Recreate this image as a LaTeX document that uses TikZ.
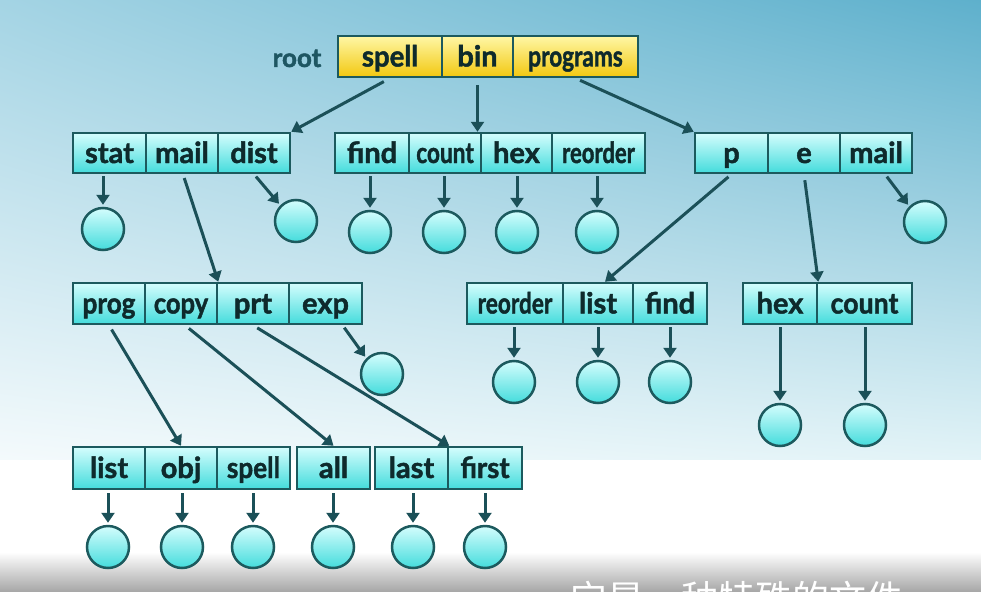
\documentclass[tikz,border=0pt]{standalone}
\usepackage{fontspec}
\usepackage{graphicx}
\setmainfont{Lato}[BoldFeatures={FakeBold=1.6}]
\newfontfamily\cjk{Noto Sans CJK SC}
\usetikzlibrary{arrows.meta,calc,shadings}
\definecolor{edgec}{HTML}{1C5A5E}
\definecolor{arrc}{HTML}{1B5058}
\definecolor{txtc}{HTML}{0E2A2C}
\definecolor{rootc}{HTML}{1E5662}
\definecolor{celltop}{HTML}{D4FDFD}
\definecolor{cellbot}{HTML}{44DCDC}
\definecolor{yeltop}{HTML}{FFF7A6}
\definecolor{yelbot}{HTML}{F2C810}
\definecolor{bgul}{HTML}{A4D4E4}
\definecolor{bgur}{HTML}{5EB0CC}
\definecolor{bgll}{HTML}{F4FAFC}
\definecolor{bglr}{HTML}{E2F3F7}
\definecolor{bggray}{HTML}{A8A8A8}
\tikzset{
  cell/.style={draw=edgec, line width=2.5pt, top color=celltop, bottom color=cellbot,
    inner sep=0pt, text height=22pt, text depth=2pt,
    font=\fontsize{29}{29}\selectfont\bfseries, text=txtc},
  ycell/.style={cell, top color=yeltop, bottom color=yelbot},
  leaf/.style={circle, draw=edgec, line width=2.5pt, top color=celltop, bottom color=cellbot,
    minimum size=42pt, inner sep=0pt},
  link/.style={draw=arrc, line width=3pt, -{Triangle[width=13pt,length=10pt]}},
}
\newcommand\mkcell[7]{\node[#1, minimum width={(#4)-(#3)}, minimum height=#6] (#2) at ({((#3)+(#4))/2},#5) {#7};}
\newcommand\sq[2]{\scalebox{#1}[1]{#2}}
\begin{document}
\begin{tikzpicture}[x=1pt,y=-1pt]
\useasboundingbox (0,0) rectangle (981,591);
\clip (0,0) rectangle (981,591);
% background
\shade[upper left=bgul, upper right=bgur, lower left=bgll, lower right=bglr]
  (0,0) rectangle (981,460);
\fill[white] (0,460) rectangle (981,553);
\shade[top color=white, bottom color=bggray] (0,552) rectangle (981,591);
% subtitle (cut off at the bottom, as in the source)
\node[text=white, font=\cjk\fontsize{37}{37}\selectfont, anchor=north west, inner sep=0pt] (sub) at (570,581) {它是一种特殊的文件};

% root
\node[font=\fontsize{26}{26}\selectfont\bfseries, text=rootc, inner sep=0pt, text height=20pt, text depth=2pt] (rootlbl) at (297,58) {root};
\mkcell{ycell}{rspell}{338}{442}{56.5}{41}{\sq{0.95}{spell}}
\mkcell{ycell}{rbin}{442}{513}{56.5}{41}{bin}
\mkcell{ycell}{rprog}{513}{638}{56.5}{41}{\sq{0.78}{programs}}

% row 2
\mkcell{cell}{astat}{73}{146}{153}{40}{stat}
\mkcell{cell}{amail}{146}{218}{153}{40}{mail}
\mkcell{cell}{adist}{218}{290}{153}{40}{dist}
\mkcell{cell}{bfind}{335}{409}{153}{40}{find}
\mkcell{cell}{bcount}{409}{481}{153}{40}{\sq{0.78}{count}}
\mkcell{cell}{bhex}{481}{552}{153}{40}{hex}
\mkcell{cell}{breorder}{552}{645}{153}{40}{\sq{0.76}{reorder}}
\mkcell{cell}{cp}{695}{768}{153}{40}{p}
\mkcell{cell}{ce}{768}{840}{153}{40}{e}
\mkcell{cell}{cmail}{840}{912}{153}{40}{mail}

% row 3
\mkcell{cell}{dprog}{73}{145}{303.5}{41}{\sq{0.9}{prog}}
\mkcell{cell}{dcopy}{145}{217}{303.5}{41}{\sq{0.88}{copy}}
\mkcell{cell}{dprt}{217}{289}{303.5}{41}{prt}
\mkcell{cell}{dexp}{289}{362}{303.5}{41}{exp}
\mkcell{cell}{ereorder}{467}{563}{303.5}{41}{\sq{0.78}{reorder}}
\mkcell{cell}{elist}{563}{633}{303.5}{41}{list}
\mkcell{cell}{efind}{633}{707}{303.5}{41}{find}
\mkcell{cell}{fhex}{743}{817}{303.5}{41}{hex}
\mkcell{cell}{fcount}{817}{912}{303.5}{41}{\sq{0.92}{count}}

% row 4
\mkcell{cell}{glist}{73}{145}{468}{42}{list}
\mkcell{cell}{gobj}{145}{217}{468}{42}{obj}
\mkcell{cell}{gspell}{217}{290}{468}{42}{\sq{0.9}{spell}}
\mkcell{cell}{hall}{297}{370}{468}{42}{all}
\mkcell{cell}{ilast}{375}{448}{468}{42}{last}
\mkcell{cell}{ifirst}{448}{522}{468}{42}{\sq{0.95}{first}}

% leaves
\node[leaf] (lstat) at (103,229) {};
\node[leaf] (ldist) at (296,221) {};
\node[leaf] (lfind) at (370,232) {};
\node[leaf] (lcount) at (444,232) {};
\node[leaf] (lhex) at (517,232) {};
\node[leaf] (lreorder) at (597,232) {};
\node[leaf] (lcmail) at (925,222) {};
\node[leaf] (lexp) at (382,374) {};
\node[leaf] (lereorder) at (514,382) {};
\node[leaf] (lelist) at (598,382) {};
\node[leaf] (lefind) at (670,382) {};
\node[leaf] (lfhex) at (780,425) {};
\node[leaf] (lfcount) at (865,425) {};
\node[leaf] (lglist) at (108,547) {};
\node[leaf] (lgobj) at (182,547) {};
\node[leaf] (lgspell) at (253,547) {};
\node[leaf] (lhall) at (333,547) {};
\node[leaf] (lilast) at (413,547) {};
\node[leaf] (lifirst) at (485,547) {};

% connectors from the root
\draw[link, shorten <=7pt] (rspell.south) -- (adist.north east);
\draw[link, shorten <=7pt] (rbin.south) -- (rbin.south |- bcount.north);
\draw[link, shorten <=5pt] (rprog.south) -- (cp.north west);
% row 2 connectors
\draw[link, shorten <=4pt] ($(amail.south)+(1,0)$) -- (dcopy.north east);
\draw[link, shorten <=4pt] (cp.south) -- ($(elist.north)+(7,0)$);
\draw[link, shorten <=6pt] (ce.south) -- (fhex.north east);
\draw[link, shorten <=3pt, shorten >=2pt] ($(cmail.south)+(9,0)$) -- (lcmail.135);
\draw[link, shorten <=3pt, shorten >=2pt] (adist.south) -- (ldist.135);
\foreach \c/\l in {astat/lstat,bfind/lfind,bcount/lcount,bhex/lhex,breorder/lreorder}
  \draw[link, shorten <=2pt, shorten >=2pt] (\c.south -| \l.north) -- (\l.north);
% row 3 connectors
\draw[link, shorten <=5pt] (dprog.south) -- (gobj.north);
\draw[link, shorten <=5pt] ($(dcopy.south)+(4,0)$) -- (hall.north);
\draw[link, shorten <=5pt] (dprt.south) -- (ilast.north east);
\draw[link, shorten <=3pt, shorten >=2pt] ($(dexp.south)+(17,0)$) -- (lexp.135);
\foreach \c/\l in {ereorder/lereorder,elist/lelist,efind/lefind,fhex/lfhex,fcount/lfcount}
  \draw[link, shorten <=2pt, shorten >=2pt] (\c.south -| \l.north) -- (\l.north);
% row 4 connectors
\foreach \c/\l in {glist/lglist,gobj/lgobj,gspell/lgspell,hall/lhall,ilast/lilast,ifirst/lifirst}
  \draw[link, shorten <=3pt, shorten >=2pt] (\c.south -| \l.north) -- (\l.north);
\end{tikzpicture}
\end{document}
